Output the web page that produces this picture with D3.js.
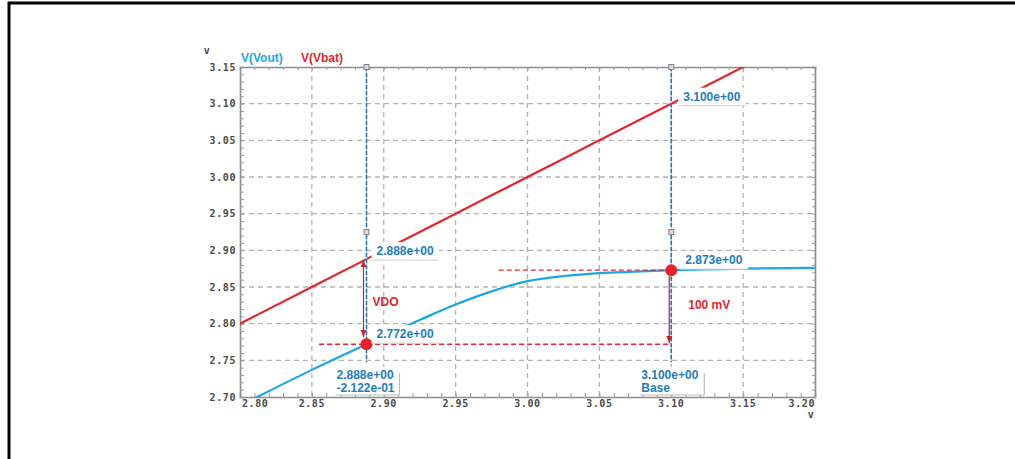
<!DOCTYPE html>
<html>
<head>
<meta charset="utf-8">
<script src="https://cdn.jsdelivr.net/npm/d3@7"></script>
<style>
  html, body { margin: 0; padding: 0; background: #fff; }
  svg { display: block; }
  .tick-lbl { font-family: "DejaVu Sans Mono", monospace; font-weight: bold; font-size: 10px; fill: #4a4a4a; letter-spacing: 0.6px; }
  .cur-lbl { font-family: "Liberation Sans", Arial, sans-serif; font-weight: bold; font-size: 12px; fill: #1d7dbd; }
  .note { font-family: "Liberation Sans", Arial, sans-serif; font-weight: bold; font-size: 12px; fill: #e3262d; }
</style>
</head>
<body>
<svg id="chart" width="1015" height="459"></svg>
<script>
// Sweep of the battery voltage (x) and the two traced node voltages
const sweep = [2.78, 2.80, 2.812, 2.85, 2.888, 2.90, 2.925, 2.95, 2.975, 3.00, 3.025, 3.05, 3.075, 3.10, 3.15, 3.20];
const vbat  = [2.78, 2.80, 2.812, 2.85, 2.888, 2.90, 2.925, 2.95, 2.975, 3.00, 3.025, 3.05, 3.075, 3.10, 3.15, 3.20];
const vout  = [2.670, 2.688, 2.700, 2.737, 2.772, 2.783, 2.805, 2.826, 2.844, 2.858, 2.865, 2.869, 2.871, 2.873, 2.875, 2.876];

const xTicks = [2.80, 2.85, 2.90, 2.95, 3.00, 3.05, 3.10, 3.15, 3.20];
const yTicks = [2.70, 2.75, 2.80, 2.85, 2.90, 2.95, 3.00, 3.05, 3.10, 3.15];

// Cursor readouts
const cursorX = [2.888, 3.10];
const cursorVbat = [2.888, 3.100];
const cursorVout = [2.772, 2.873];
const cursorFoot = [["2.888e+00", "-2.122e-01"], ["3.100e+00", "Base"]];
const cursorHandleY = 2.925;

const svg = d3.select("#chart");
const x = d3.scaleLinear().domain([2.80, 3.20]).range([240, 815]);
const y = d3.scaleLinear().domain([2.70, 3.15]).range([397, 67]);
const [x0, x1] = x.range();
const [y0, y1] = y.range();

// outer page frame (top and left edges)
svg.append("path").attr("d", `M9,459 V3 H1015`).attr("fill", "none").attr("stroke", "#000").attr("stroke-width", 3);

svg.append("defs").append("clipPath").attr("id", "plot")
  .append("rect").attr("x", x0).attr("y", y1).attr("width", x1 - x0).attr("height", y0 - y1);

// dashed grid
const grid = svg.append("g").attr("stroke", "#b3b3b3").attr("stroke-width", 1.3).attr("stroke-dasharray", "5,4");
grid.selectAll(".gx").data(xTicks.slice(1, -1)).join("line")
  .attr("x1", d => x(d)).attr("x2", d => x(d)).attr("y1", y1).attr("y2", y0);
grid.selectAll(".gy").data(yTicks.slice(1, -1)).join("line")
  .attr("y1", d => y(d)).attr("y2", d => y(d)).attr("x1", x0).attr("x2", x1);

// axes with minor ticks pointing inward
const xMinor = d3.range(0, 41).map(i => 2.80 + i * 0.01);
const yMinor = d3.range(0, 46).map(i => 2.70 + i * 0.01);
const axBottom = svg.append("g").attr("transform", `translate(0,${y0})`)
  .call(d3.axisBottom(x).tickValues(xMinor).tickSize(-4).tickFormat(""));
const axTop = svg.append("g").attr("transform", `translate(0,${y1})`)
  .call(d3.axisTop(x).tickValues(xMinor).tickSize(-3).tickFormat(""));
const axLeft = svg.append("g").attr("transform", `translate(${x0},0)`)
  .call(d3.axisLeft(y).tickValues(yMinor).tickSize(-4).tickFormat(""));
const axRight = svg.append("g").attr("transform", `translate(${x1},0)`)
  .call(d3.axisRight(y).tickValues(yMinor).tickSize(-3).tickFormat(""));
[axBottom, axTop, axLeft, axRight].forEach(g => {
  g.select(".domain").attr("stroke", "#8c8c8c").attr("stroke-width", 1.6);
  g.selectAll(".tick line").attr("stroke", "#9a9a9a").attr("stroke-width", 1);
});

// tick labels
svg.selectAll(".xl").data(xTicks).join("text").attr("class", "tick-lbl")
  .attr("x", (d, i) => i === 0 ? x(d) + 2 : x(d))
  .attr("y", y0 + 10)
  .attr("text-anchor", (d, i) => i === 0 ? "start" : i === xTicks.length - 1 ? "end" : "middle")
  .text(d => d.toFixed(2));
svg.selectAll(".yl").data(yTicks).join("text").attr("class", "tick-lbl")
  .attr("x", x0 - 4).attr("y", d => y(d) + 3.5).attr("text-anchor", "end")
  .text(d => d.toFixed(2));
svg.append("text").attr("class", "tick-lbl").attr("x", 207).attr("y", 54).attr("text-anchor", "middle").text("v");
svg.append("text").attr("class", "tick-lbl").attr("x", 811).attr("y", 418).attr("text-anchor", "middle").text("v");

// legend
svg.append("text").attr("class", "cur-lbl").attr("x", 241).attr("y", 62).style("fill", "#1ba6e4").text("V(Vout)");
svg.append("text").attr("class", "cur-lbl").attr("x", 301).attr("y", 62).style("fill", "#e3262d").text("V(Vbat)");

// traces
const plot = svg.append("g").attr("clip-path", "url(#plot)");
const pts = (ys) => sweep.map((s, i) => [s, ys[i]]);
plot.append("path").datum(pts(vbat)).attr("fill", "none").attr("stroke", "#e3262d").attr("stroke-width", 2.2)
  .attr("d", d3.line().x(d => x(d[0])).y(d => y(d[1])));
plot.append("path").datum(pts(vout)).attr("fill", "none").attr("stroke", "#1ba6e4").attr("stroke-width", 2.2)
  .attr("d", d3.line().curve(d3.curveMonotoneX).x(d => x(d[0])).y(d => y(d[1])));

// cursors
const curBottom = y(2.75) + 2;
cursorX.forEach(cx => {
  const px = x(cx);
  svg.append("line").attr("x1", px).attr("x2", px).attr("y1", y1).attr("y2", curBottom)
    .attr("stroke", "#9cc9e6").attr("stroke-width", 1);
  svg.append("line").attr("x1", px).attr("x2", px).attr("y1", y1).attr("y2", curBottom)
    .attr("stroke", "#2a78ad").attr("stroke-width", 1.6).attr("stroke-dasharray", "4,2");
  [y1, y(cursorHandleY)].forEach(hy => {
    svg.append("rect").attr("x", px - 2.5).attr("y", hy - 2.5).attr("width", 5).attr("height", 5)
      .attr("fill", "#d8d8d8").attr("stroke", "#888").attr("stroke-width", 1);
  });
});

// red reference dashes
const refs = [[2.855, 3.10, cursorVout[0]], [2.98, 3.10, cursorVout[1]]];
refs.forEach(([a, b, v]) => {
  svg.append("line").attr("x1", x(a)).attr("x2", x(b)).attr("y1", y(v)).attr("y2", y(v))
    .attr("stroke", "#e3262d").attr("stroke-width", 1.4).attr("stroke-dasharray", "5,3");
});

// arrows
const defs = svg.select("defs");
defs.append("marker").attr("id", "ah").attr("viewBox", "0 0 10 10").attr("refX", 10).attr("refY", 5)
  .attr("markerWidth", 6).attr("markerHeight", 6).attr("orient", "auto-start-reverse")
  .append("path").attr("d", "M0,1 L10,5 L0,9 Z").attr("fill", "#c8202a");
svg.append("line").attr("x1", x(cursorX[0]) - 3).attr("x2", x(cursorX[0]) - 3)
  .attr("y1", y(cursorVbat[0]) + 1).attr("y2", y(cursorVout[0]) - 7)
  .attr("stroke", "#c8202a").attr("stroke-width", 1.2)
  .attr("marker-start", "url(#ah)").attr("marker-end", "url(#ah)");
svg.append("line").attr("x1", x(cursorX[1]) - 2).attr("x2", x(cursorX[1]) - 2)
  .attr("y1", y(cursorVout[1]) + 6).attr("y2", y(cursorVout[0]) - 1)
  .attr("stroke", "#c8202a").attr("stroke-width", 1.2).attr("marker-end", "url(#ah)");
svg.append("text").attr("class", "note").attr("x", x(cursorX[0]) + 6).attr("y", y((cursorVbat[0] + cursorVout[0]) / 2) + 4).text("VDO");
svg.append("text").attr("class", "note").attr("x", x(cursorX[1]) + 17).attr("y", y(2.825) + 4).text("100 mV");

// markers on Vout
cursorX.forEach((cx, i) => {
  svg.append("circle").attr("cx", x(cx)).attr("cy", y(cursorVout[i])).attr("r", 6).attr("fill", "#e8202a");
});

// value readouts with white backing
function readout(px, py, txt) {
  const t = svg.append("text").attr("class", "cur-lbl").attr("x", px).attr("y", py).text(txt);
  const bb = t.node().getBBox();
  svg.insert("rect", () => t.node()).attr("x", bb.x - 5).attr("y", bb.y - 2).attr("width", bb.width + 10).attr("height", bb.height + 4)
    .attr("fill", "#fff");
  svg.insert("line", () => t.node()).attr("x1", bb.x - 5).attr("x2", bb.x + bb.width + 5)
    .attr("y1", bb.y + bb.height + 2).attr("y2", bb.y + bb.height + 2).attr("stroke", "#d0d0d0").attr("stroke-width", 1);
}
readout(x(cursorX[1]) + 12, y(cursorVbat[1]) - 3, cursorVbat[1].toFixed(3) + "e+00");
readout(x(cursorX[0]) + 10, y(cursorVbat[0]) - 4, cursorVbat[0].toFixed(3) + "e+00");
readout(x(cursorX[1]) + 14, y(cursorVout[1]) - 6, cursorVout[1].toFixed(3) + "e+00");
readout(x(cursorX[0]) + 10, y(cursorVout[0]) - 6, cursorVout[0].toFixed(3) + "e+00");

// footer readout boxes under each cursor
cursorX.forEach((cx, i) => {
  const px = x(cx);
  const bx = px - 35, by = 367, bw = 68, bh = 28;
  svg.append("rect").attr("x", bx).attr("y", by).attr("width", bw).attr("height", bh).attr("fill", "#fff");
  svg.append("path").attr("d", `M${bx + bw},${by + 6} V${by + bh} H${bx + 4}`).attr("fill", "none")
    .attr("stroke", "#bdbdbd").attr("stroke-width", 1.2);
  svg.append("text").attr("class", "cur-lbl").attr("x", px - 30).attr("y", by + 12).text(cursorFoot[i][0]);
  svg.append("text").attr("class", "cur-lbl").attr("x", px - 30).attr("y", by + 25).text(cursorFoot[i][1]);
});
</script>
</body>
</html>
